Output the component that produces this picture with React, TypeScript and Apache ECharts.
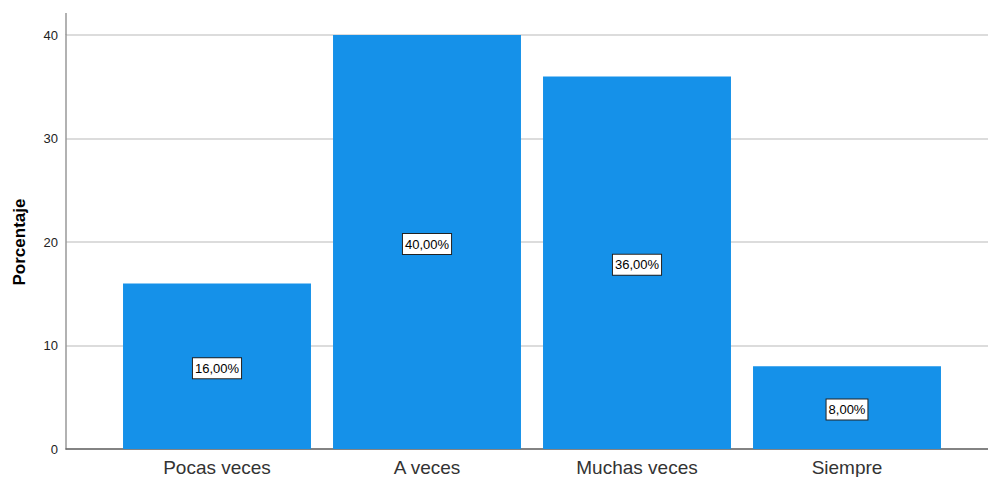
import React, { useEffect, useRef } from "react";
import * as echarts from "echarts";

const categories = ["Pocas veces", "A veces", "Muchas veces", "Siempre"];
const values = [16, 40, 36, 8];
const yTicks = [0, 10, 20, 30, 40];

export default function App() {
  const ref = useRef<HTMLDivElement>(null);
  useEffect(() => {
    if (!ref.current) return;
    const chart = echarts.init(ref.current, undefined, { renderer: "svg" });
    const font = "Arial, 'Liberation Sans', sans-serif";
    chart.setOption({
      animation: false,
      textStyle: { fontFamily: font },
      grid: [
        { left: 66, right: 0, top: 35, bottom: 28 },
        { left: 112, right: 36, top: 35, bottom: 28 },
      ],
      xAxis: [
        {
          type: "value",
          gridIndex: 0,
          min: 0,
          max: 1,
          axisLine: { show: true, onZero: false, lineStyle: { color: "#666", width: 1.5 } },
          axisTick: { show: false },
          axisLabel: { show: false },
          splitLine: { show: false },
        },
        {
          type: "category",
          gridIndex: 1,
          data: categories,
          axisLine: { show: false },
          axisTick: { show: false },
          axisLabel: { fontSize: 19, color: "#333", margin: 9, fontFamily: font },
        },
      ],
      yAxis: [
        {
          type: "value",
          gridIndex: 0,
          min: yTicks[0],
          max: yTicks[yTicks.length - 1],
          interval: 10,
          name: "Porcentaje",
          nameLocation: "middle",
          nameGap: 38,
          nameTextStyle: { fontSize: 17, fontWeight: "bold", color: "#000", fontFamily: font },
          axisLine: { show: true, lineStyle: { color: "#999", width: 1.5 } },
          axisTick: { show: false },
          axisLabel: { fontSize: 13, color: "#222", margin: 8, fontFamily: font },
          splitLine: { show: true, lineStyle: { color: "#d0d0d0", width: 1.5 } },
        },
        {
          type: "value",
          gridIndex: 1,
          min: yTicks[0],
          max: yTicks[yTicks.length - 1],
          interval: 10,
          show: false,
          splitLine: { show: false },
        },
      ],
      graphic: [
        {
          type: "line",
          shape: { x1: 66, y1: 13, x2: 66, y2: 35 },
          style: { stroke: "#999", lineWidth: 1.5 },
          z: 10,
        },
      ],
      series: [
        {
          type: "bar",
          xAxisIndex: 1,
          yAxisIndex: 1,
          data: values,
          barCategoryGap: "10.5%",
          itemStyle: { color: "#1591e9" },
          label: {
            show: true,
            position: "inside",
            offset: [0, 2],
            formatter: (p: any) => p.value.toFixed(2).replace(".", ",") + "%",
            color: "#000",
            fontSize: 13,
            fontFamily: font,
            backgroundColor: "#fff",
            borderColor: "#222",
            borderWidth: 1,
            padding: [4, 2, 3, 2],
          },
        },
      ],
    });
    return () => chart.dispose();
  }, []);
  return (
    <div
      ref={ref}
      style={{ position: "fixed", left: 0, top: 0, width: 988, height: 477, background: "#fff" }}
    />
  );
}
